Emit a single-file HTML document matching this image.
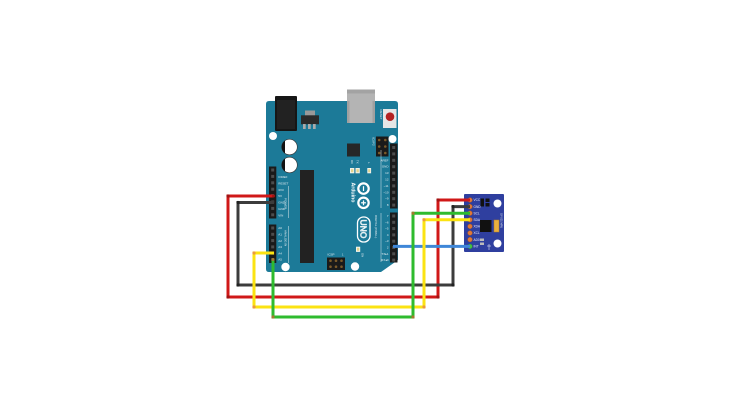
<!DOCTYPE html>
<html><head><meta charset="utf-8">
<style>html,body{margin:0;padding:0;background:#fff;width:730px;height:409px;overflow:hidden}svg{display:block}</style>
</head>
<body>
<svg width="730" height="409" viewBox="0 0 730 409" xmlns="http://www.w3.org/2000/svg" font-family="Liberation Sans, sans-serif">
<rect width="730" height="409" fill="#fff"/>

<!-- Arduino board -->
<path d="M266,104 Q266,101 269,101 L395,101 Q398,101 398,104 L398,260 L381,272 L269,272 Q266,272 266,269 Z" fill="#1c7a98"/>

<!-- power jack -->
<rect x="275" y="96" width="22" height="35" rx="1" fill="#161616"/>
<rect x="277" y="100" width="18" height="29" fill="#222"/>
<!-- regulator -->
<rect x="305" y="110.5" width="10" height="5" fill="#999"/>
<rect x="301" y="115.3" width="18" height="9" fill="#2a2a2a"/>
<rect x="303" y="124" width="2.7" height="5" fill="#aaa"/>
<rect x="308" y="124" width="2.7" height="5" fill="#aaa"/>
<rect x="313" y="124" width="2.7" height="5" fill="#aaa"/>

<!-- USB -->
<rect x="347" y="89.5" width="28" height="33.5" fill="#b4b4b4"/>
<rect x="347" y="89.5" width="28" height="4" fill="#a3a3a3"/>
<rect x="347" y="101" width="2.5" height="22" fill="#a0a0a0"/>
<rect x="372.5" y="101" width="2.5" height="22" fill="#a0a0a0"/>

<!-- reset -->
<rect x="383" y="109" width="13.5" height="19" fill="#e6e6e6"/>
<circle cx="390" cy="116.7" r="4.3" fill="#b32222"/>
<text x="0" y="0" font-size="3" fill="#e6eef2" transform="translate(380,109.5) rotate(90)">RESET</text>

<!-- mounting holes -->
<circle cx="273" cy="136" r="4" fill="#fff"/>
<circle cx="392.5" cy="139" r="4" fill="#fff"/>
<circle cx="285.5" cy="267" r="4.2" fill="#fff"/>
<circle cx="355" cy="266.5" r="4.2" fill="#fff"/>

<!-- capacitors -->
<circle cx="289.5" cy="147" r="7.8" fill="#fff" stroke="#333" stroke-width="0.6"/>
<path d="M285,140.6 A7.8,7.8 0 0 0 285,153.4 Z" fill="#111"/>
<circle cx="289.5" cy="165" r="7.8" fill="#fff" stroke="#333" stroke-width="0.6"/>
<path d="M285,158.6 A7.8,7.8 0 0 0 285,171.4 Z" fill="#111"/>

<!-- main chip -->
<rect x="300" y="170" width="14" height="93" fill="#222"/>
<!-- 16U2 -->
<rect x="347" y="143.5" width="13" height="13" fill="#262626"/>

<!-- ICSP2 -->
<rect x="376" y="136.5" width="12.5" height="20" fill="#1a1a1a"/>
<g fill="#7a5a2a">
<circle cx="379.2" cy="140" r="1.3"/><circle cx="385.3" cy="140" r="1.3"/>
<circle cx="379.2" cy="146.5" r="1.3"/><circle cx="385.3" cy="146.5" r="1.3"/>
<circle cx="379.2" cy="153" r="1.3"/><circle cx="385.3" cy="153" r="1.3"/>
</g>
<text font-size="3" fill="#e6eef2" transform="translate(372.5,137) rotate(90)">ICSP2</text>

<!-- ICSP bottom -->
<rect x="327" y="257.5" width="18" height="12.5" fill="#1a1a1a"/>
<g fill="#7a5a2a">
<circle cx="330.5" cy="260.7" r="1.3"/><circle cx="336" cy="260.7" r="1.3"/><circle cx="341.5" cy="260.7" r="1.3"/>
<circle cx="330.5" cy="266.7" r="1.3"/><circle cx="336" cy="266.7" r="1.3"/><circle cx="341.5" cy="266.7" r="1.3"/>
</g>
<text x="327.5" y="255.5" font-size="3" fill="#e6eef2">ICSP</text>
<text x="342" y="255.5" font-size="2.6" fill="#e6eef2">1</text>

<!-- LEDs -->
<rect x="350" y="168" width="4.3" height="5.3" fill="#f2f2ea"/><rect x="351" y="169.2" width="2.3" height="3" fill="#e3d48a"/>
<rect x="355.5" y="168" width="4.3" height="5.3" fill="#f2f2ea"/><rect x="356.5" y="169.2" width="2.3" height="3" fill="#e3d48a"/>
<rect x="367.3" y="168" width="3.8" height="5.3" fill="#f2f2ea"/><rect x="368.2" y="169.2" width="2" height="3" fill="#e3d48a"/>
<rect x="356" y="246.7" width="4.2" height="5.2" fill="#f2f2ea"/><rect x="357" y="247.8" width="2.2" height="3" fill="#e3d48a"/>
<text font-size="2.8" fill="#e6eef2" transform="translate(351,160) rotate(90)">RX</text>
<text font-size="2.8" fill="#e6eef2" transform="translate(356.5,160) rotate(90)">TX</text>
<text font-size="3" fill="#e6eef2" transform="translate(368,162) rotate(90)">L</text>
<text font-size="2.8" fill="#e6eef2" transform="translate(361.5,253) rotate(90)">ON</text>

<!-- logo -->
<g fill="none" stroke="#fff" stroke-width="2.2">
<circle cx="363.5" cy="188.6" r="5.2"/>
<circle cx="363.5" cy="202.8" r="5.2"/>
</g>
<g stroke="#fff" stroke-width="1.2">
<line x1="363.5" y1="186.2" x2="363.5" y2="191"/>
<line x1="363.5" y1="200.4" x2="363.5" y2="205.2"/>
<line x1="361.1" y1="202.8" x2="365.9" y2="202.8"/>
</g>
<text font-size="5.2" fill="#fff" font-weight="bold" transform="translate(351.5,182.5) rotate(90)">Arduino</text>
<rect x="357.5" y="217" width="12.5" height="25" rx="6" fill="none" stroke="#fff" stroke-width="1.3"/>
<text font-size="8.5" fill="none" stroke="#fff" stroke-width="0.6" transform="translate(360.5,219.5) rotate(90)">UNO</text>

<!-- silk lines & group labels -->
<g stroke="#dfe9ee" stroke-width="0.5">
<line x1="288.7" y1="186" x2="288.7" y2="218"/>
<line x1="288.7" y1="226" x2="288.7" y2="263"/>
<line x1="381" y1="213" x2="381" y2="262"/>
<line x1="381" y1="150" x2="381" y2="208"/>
</g>
<text font-size="3" fill="#e6eef2" transform="translate(284.5,198) rotate(90)">POWER</text>
<text font-size="3" fill="#e6eef2" transform="translate(284.5,230) rotate(90)">ANALOG IN</text>
<text font-size="3" fill="#e6eef2" transform="translate(375,215) rotate(90)">DIGITAL (PWM~)</text>

<!-- left headers -->
<rect x="269" y="166.5" width="7.3" height="52" fill="#1a1a1a"/>
<rect x="269" y="224.5" width="7.3" height="38.5" fill="#1a1a1a"/>
<g fill="#4d4d4d">
<rect x="271.2" y="168.5" width="3" height="3"/><rect x="271.2" y="174.9" width="3" height="3"/>
<rect x="271.2" y="181.3" width="3" height="3"/><rect x="271.2" y="187.7" width="3" height="3"/>
<rect x="271.2" y="194.1" width="3" height="3"/><rect x="271.2" y="200.5" width="3" height="3"/>
<rect x="271.2" y="206.9" width="3" height="3"/><rect x="271.2" y="213.3" width="3" height="3"/>
<rect x="271.2" y="226.5" width="3" height="3"/><rect x="271.2" y="232.8" width="3" height="3"/>
<rect x="271.2" y="239.1" width="3" height="3"/><rect x="271.2" y="245.4" width="3" height="3"/>
<rect x="271.2" y="251.7" width="3" height="3"/><rect x="271.2" y="258" width="3" height="3"/>
</g>
<g font-size="3" fill="#e6eef2">
<text x="278.3" y="178">IOREF</text><text x="278.3" y="184.4">RESET</text>
<text x="278.3" y="190.8">3V3</text><text x="278.3" y="197.2">5V</text>
<text x="278.3" y="203.6">GND</text><text x="278.3" y="210">GND</text>
<text x="278.3" y="216.4">VIN</text>
<text x="278.3" y="229.2">A0</text><text x="278.3" y="235.5">A1</text>
<text x="278.3" y="241.8">A2</text><text x="278.3" y="248.1">A3</text>
<text x="278.3" y="254.4">A4</text><text x="278.3" y="260.7">A5</text>
</g>

<!-- right headers -->
<rect x="390" y="143.5" width="7.5" height="65" fill="#1a1a1a"/>
<rect x="390" y="212.5" width="7.5" height="50" fill="#1a1a1a"/>
<g fill="#4d4d4d">
<rect x="392.2" y="146" width="3" height="3"/><rect x="392.2" y="152.4" width="3" height="3"/>
<rect x="392.2" y="158.8" width="3" height="3"/><rect x="392.2" y="165.2" width="3" height="3"/>
<rect x="392.2" y="171.6" width="3" height="3"/><rect x="392.2" y="178" width="3" height="3"/>
<rect x="392.2" y="184.4" width="3" height="3"/><rect x="392.2" y="190.8" width="3" height="3"/>
<rect x="392.2" y="197.2" width="3" height="3"/><rect x="392.2" y="203.6" width="3" height="3"/>
<rect x="392.2" y="214.5" width="3" height="3"/><rect x="392.2" y="220.8" width="3" height="3"/>
<rect x="392.2" y="227.1" width="3" height="3"/><rect x="392.2" y="233.4" width="3" height="3"/>
<rect x="392.2" y="239.7" width="3" height="3"/><rect x="392.2" y="246" width="3" height="3"/>
<rect x="392.2" y="252.3" width="3" height="3"/><rect x="392.2" y="258.6" width="3" height="3"/>
</g>
<g font-size="3" fill="#e6eef2" text-anchor="end">
<text x="388.5" y="161.3">AREF</text><text x="388.5" y="167.7">GND</text>
<text x="388.5" y="174.1">13</text><text x="388.5" y="180.5">12</text>
<text x="388.5" y="186.9">~11</text><text x="388.5" y="193.3">~10</text>
<text x="388.5" y="199.7">~9</text><text x="388.5" y="206.1">8</text>
<text x="388.5" y="217">7</text><text x="388.5" y="223.3">~6</text>
<text x="388.5" y="229.6">~5</text><text x="388.5" y="235.9">4</text>
<text x="388.5" y="242.2">~3</text><text x="388.5" y="248.5">2</text>
<text x="388.5" y="254.8">TX▸1</text><text x="388.5" y="261.1">RX◂0</text>
</g>

<!-- MPU6050 module -->
<rect x="464" y="194" width="40" height="58" rx="1" fill="#2f3f9f"/>
<circle cx="497.5" cy="203.5" r="4" fill="#fff"/>
<circle cx="497.5" cy="243.5" r="4" fill="#fff"/>
<rect x="480" y="220" width="11.5" height="12" fill="#111"/>
<rect x="494" y="220" width="5" height="12" fill="#e8b040" stroke="#b88020" stroke-width="0.5"/>
<rect x="480.5" y="198.5" width="3.5" height="8" fill="#111"/>
<rect x="485.5" y="198.5" width="4" height="3.5" fill="#111"/>
<rect x="485.5" y="203" width="4" height="3.5" fill="#111"/>
<rect x="480" y="238.5" width="4" height="2.5" fill="#bbb"/>
<rect x="480" y="242.5" width="4" height="2.5" fill="#bbb"/>
<g stroke="#fff" stroke-width="0.5"><line x1="487" y1="246" x2="491" y2="246"/><line x1="489" y1="244" x2="489" y2="250"/></g>
<text font-size="2.6" fill="#e6eef2" transform="translate(500.5,213) rotate(90)">GY-521 MPU</text>
<g fill="#e07a38" stroke="#b85a20" stroke-width="0.5">
<circle cx="470" cy="200" r="2.3"/><circle cx="470" cy="206.6" r="2.3"/>
<circle cx="470" cy="213.2" r="2.3"/><circle cx="470" cy="219.8" r="2.3"/>
<circle cx="470" cy="226.4" r="2.3"/><circle cx="470" cy="233" r="2.3"/>
<circle cx="470" cy="239.6" r="2.3"/>
</g>
<circle cx="470" cy="246.4" r="2.3" fill="#45c045" stroke="#2a9a2a" stroke-width="0.5"/>
<g font-size="3.2" fill="#eef">
<text x="473.5" y="201.2">VCC</text><text x="473.5" y="207.8">GND</text>
<text x="473.5" y="214.4">SCL</text><text x="473.5" y="221">SDA</text>
<text x="473.5" y="227.6">XDA</text><text x="473.5" y="234.2">XCL</text>
<text x="473.5" y="240.8">AD0</text><text x="473.5" y="247.6">INT</text>
</g>

<!-- wires -->
<g fill="none" stroke-width="3" stroke-linejoin="miter" stroke-linecap="butt">
<polyline points="274,196 228,196 228,297 438,297 438,200 470,200" stroke="#d01818"/>
<polyline points="274,202.5 238,202.5 238,285 453,285 453,206.6 470,206.6" stroke="#3c3c3c"/>
<polyline points="393,246.4 470,246.4" stroke="#3f87d8"/>
<polyline points="274,253 254,253 254,307 424,307 424,219.8 470,219.8" stroke="#fbe312"/>
<polyline points="273,259.5 273,317 413,317 413,213.2 470,213.2" stroke="#2ebb2e"/>
</g>
<!-- bend dots -->
<g fill="#a01414"><circle cx="228" cy="196" r="1.6"/><circle cx="228" cy="297" r="1.6"/><circle cx="438" cy="297" r="1.6"/><circle cx="438" cy="200" r="1.6"/><circle cx="273.5" cy="196" r="1.5"/></g>
<g fill="#222"><circle cx="238" cy="202.5" r="1.6"/><circle cx="238" cy="285" r="1.6"/><circle cx="453" cy="285" r="1.6"/><circle cx="453" cy="206.6" r="1.6"/></g>
<g fill="#ec9a40"><circle cx="254" cy="253" r="1.6"/><circle cx="254" cy="307" r="1.6"/><circle cx="424" cy="307" r="1.6"/><circle cx="424" cy="219.8" r="1.6"/></g>
<g fill="#a07a30"><circle cx="273" cy="259.5" r="1.5"/><circle cx="273" cy="317" r="1.6"/><circle cx="413" cy="317" r="1.6"/><circle cx="413" cy="213.2" r="1.6"/></g>
</svg>
</body></html>
